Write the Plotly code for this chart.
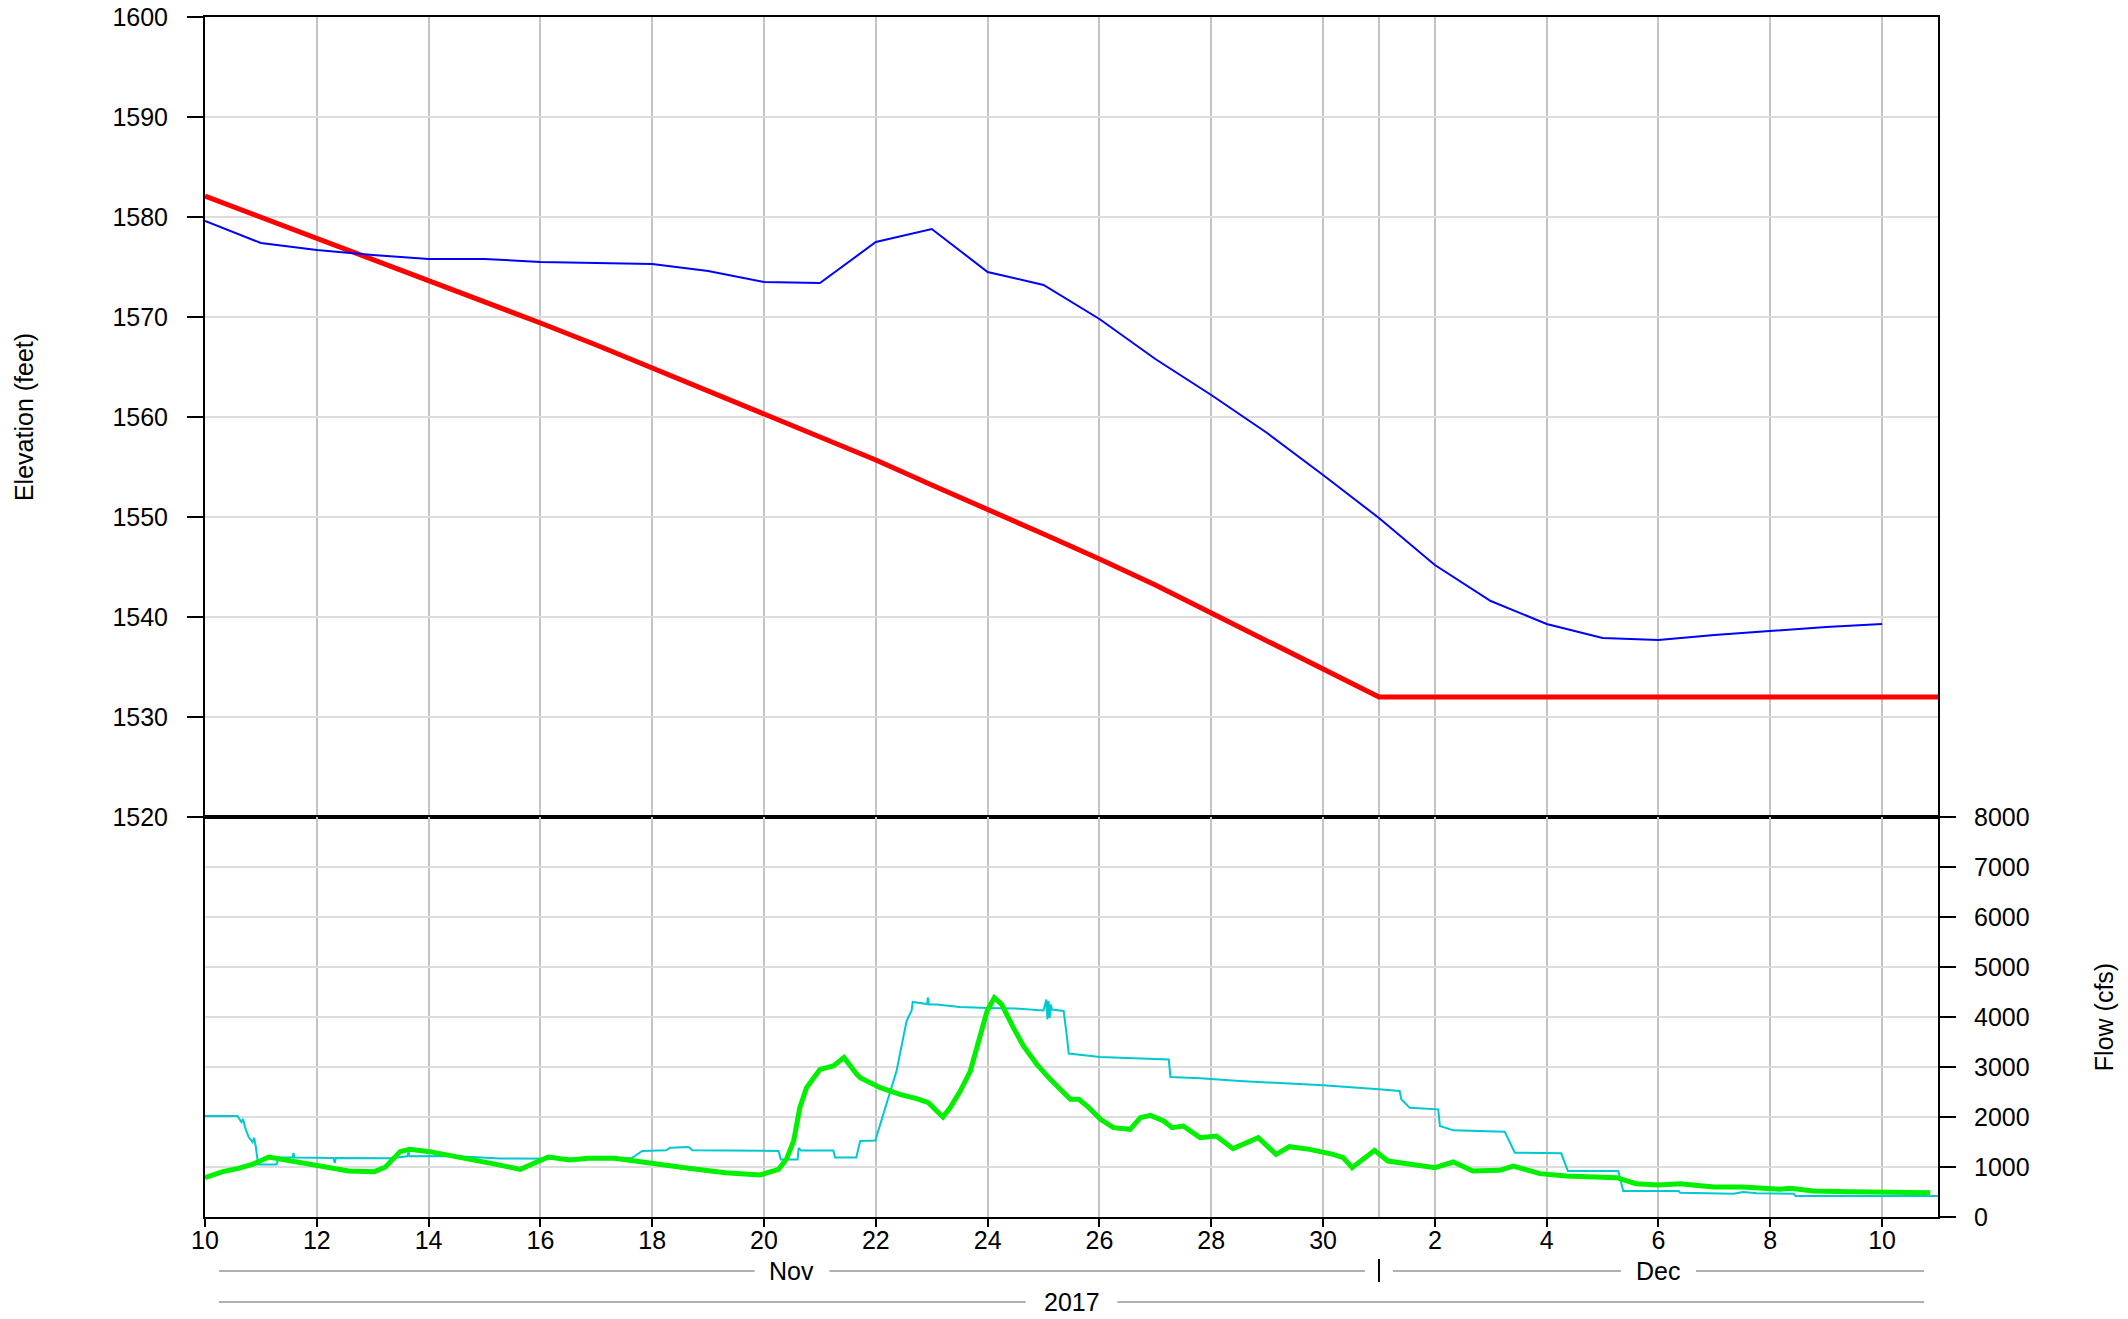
import pandas as pd
import plotly.graph_objects as go
from plotly.subplots import make_subplots

# ---------------- data (time = day count from Oct 31, 2017; 10 = Nov 10, 31 = Dec 1) -------------
BASE = pd.Timestamp("2017-10-31")

elev_days = list(range(10, 41))
elev_actual = [1579.6, 1577.4, 1576.7, 1576.2, 1575.8, 1575.8, 1575.5, 1575.4, 1575.3, 1574.6,
               1573.5, 1573.4, 1577.5, 1578.8, 1574.5, 1573.2, 1569.8, 1565.8, 1562.2, 1558.4,
               1554.2, 1549.9, 1545.2, 1541.6, 1539.3, 1537.9, 1537.7, 1538.2, 1538.6, 1539.0,
               1539.3]

rule_days = list(range(10, 32)) + [41]
rule_elev = [1582.1, 1580.0, 1577.9, 1575.8, 1573.7, 1571.6, 1569.4, 1567.2, 1564.9, 1562.7,
             1560.4, 1558.1, 1555.7, 1553.2, 1550.8, 1548.3, 1545.8, 1543.2, 1540.4, 1537.6,
             1534.8, 1532.0, 1532.0]

out_days = [10.0, 10.58, 10.65, 10.68, 10.72, 10.78, 10.85, 10.88, 10.91, 10.95, 11.28, 11.32,
            11.57, 11.58, 11.6, 12.3, 12.32, 12.34, 13.33, 13.62, 13.64, 13.66, 14.55, 14.6,
            15.28, 16.53, 17.2, 17.63, 17.82, 18.25, 18.32, 18.65, 18.72, 19.5, 20.26, 20.3,
            20.6, 20.62, 20.66, 21.24, 21.27, 21.65, 21.72, 21.99, 22.2, 22.37, 22.55, 22.64,
            22.66, 22.76, 22.92, 22.93, 22.95, 23.09, 23.5, 24.0, 24.5, 25.0, 25.05, 25.07,
            25.09, 25.11, 25.13, 25.15, 25.36, 25.42, 25.45, 26.01, 27.24, 27.27, 27.8, 28.51,
            30.0, 31.0, 31.37, 31.4, 31.55, 32.06, 32.09, 32.33, 33.25, 33.43, 34.26, 34.38,
            35.28, 35.37, 36.36, 36.39, 37.34, 37.52, 37.76, 38.42, 38.45, 41.0]
out_flow = [2020, 2020, 1900, 1960, 1780, 1600, 1500, 1580, 1400, 1050, 1050, 1190,
            1190, 1280, 1190, 1180, 1080, 1180, 1175, 1215, 1300, 1215, 1220, 1210,
            1170, 1165, 1185, 1175, 1320, 1333, 1385, 1400, 1335, 1330, 1320, 1150,
            1150, 1380, 1330, 1330, 1190, 1190, 1520, 1530, 2320, 2920, 3920, 4130,
            4300, 4290, 4260, 4390, 4250, 4250, 4200, 4180, 4170, 4130, 4350, 3950,
            4320, 3980, 4250, 4150, 4120, 3590, 3270, 3200, 3150, 2800, 2775, 2720,
            2633, 2553, 2520, 2353, 2187, 2153, 1820, 1733, 1707, 1287, 1273, 920,
            920, 520, 520, 487, 467, 500, 473, 467, 420, 420]

in_days = [10.0, 10.32, 10.58, 10.85, 11.14, 11.51, 12.0, 12.57, 13.03, 13.23, 13.49, 13.66,
           14.02, 14.55, 15.21, 15.64, 16.14, 16.53, 16.86, 17.33, 17.99, 18.65, 19.31, 19.93,
           20.26, 20.4, 20.53, 20.64, 20.76, 21.0, 21.24, 21.43, 21.66, 21.72, 22.08, 22.43,
           22.73, 22.94, 23.09, 23.2, 23.33, 23.51, 23.69, 23.84, 23.99, 24.12, 24.25, 24.46,
           24.64, 24.88, 25.12, 25.48, 25.63, 25.78, 26.02, 26.25, 26.55, 26.73, 26.91, 27.15,
           27.3, 27.5, 27.8, 28.09, 28.39, 28.84, 29.16, 29.4, 29.76, 30.18, 30.36, 30.52,
           30.92, 31.16, 31.61, 32.0, 32.33, 32.68, 33.16, 33.4, 33.88, 34.35, 35.25, 35.6,
           36.0, 36.39, 36.8, 37.0, 37.5, 37.76, 38.18, 38.36, 38.77, 39.43, 40.03, 40.86]
in_flow = [787, 907, 967, 1053, 1200, 1133, 1020, 920, 907, 1000, 1307, 1353,
           1307, 1200, 1053, 953, 1200, 1140, 1173, 1173, 1067, 973, 887, 840,
           953, 1153, 1520, 2187, 2587, 2953, 3020, 3187, 2853, 2787, 2587, 2453,
           2367, 2287, 2120, 2000, 2187, 2520, 2920, 3520, 4120, 4387, 4253, 3787,
           3420, 3053, 2753, 2353, 2353, 2220, 1953, 1787, 1753, 1987, 2033, 1920,
           1787, 1820, 1587, 1620, 1367, 1587, 1253, 1407, 1353, 1253, 1187, 987,
           1333, 1120, 1040, 987, 1100, 920, 933, 1020, 867, 820, 787, 667,
           640, 667, 620, 600, 600, 587, 553, 573, 520, 507, 507, 487]

tick_days = [10, 12, 14, 16, 18, 20, 22, 24, 26, 28, 30, 32, 34, 36, 38, 40]
tick_text = ["10", "12", "14", "16", "18", "20", "22", "24", "26", "28", "30",
             "2", "4", "6", "8", "10"]
months = ["Nov", "Dec"]
month_bounds = [10, 31, 41]
year_label = "2017"


def dt(days):
    return [BASE + pd.Timedelta(days=float(d)) for d in days]


FONT = "Liberation Sans, Arial, sans-serif"
BLACK = "#000000"

fig = make_subplots(rows=2, cols=1, shared_xaxes=True, vertical_spacing=0,
                    row_heights=[2 / 3, 1 / 3])

fig.add_trace(go.Scatter(x=dt(rule_days), y=rule_elev, mode="lines",
                         line=dict(color="#ff0000", width=5), name="Rule curve"), row=1, col=1)
fig.add_trace(go.Scatter(x=dt(elev_days), y=elev_actual, mode="lines",
                         line=dict(color="#0000ff", width=2), name="Elevation"), row=1, col=1)
fig.add_trace(go.Scatter(x=dt(out_days), y=out_flow, mode="lines",
                         line=dict(color="#00c8d0", width=2), name="Outflow"), row=2, col=1)
fig.add_trace(go.Scatter(x=dt(in_days), y=in_flow, mode="lines",
                         line=dict(color="#00f000", width=5), name="Inflow"), row=2, col=1)

xrange = dt([month_bounds[0], month_bounds[-1]])
minor_grid = dict(tickmode="array", tickvals=dt([month_bounds[1]]), showgrid=True,
                  gridcolor="#c4c4c4", gridwidth=2, ticks="")

common_x = dict(range=xrange, tickmode="array", tickvals=dt(tick_days), ticktext=tick_text,
                showgrid=True, gridcolor="#c4c4c4", gridwidth=2, showline=True,
                linecolor=BLACK, linewidth=2, mirror=True, zeroline=False, minor=minor_grid,
                automargin=False)

fig.update_xaxes(**common_x, showticklabels=False, ticks="", row=1, col=1)
fig.update_xaxes(**common_x, ticks="outside", ticklen=8, tickwidth=2, tickcolor=BLACK,
                 ticklabelstandoff=-8, ticklabeloverflow="allow",
                 tickfont=dict(size=25, color=BLACK, family=FONT), row=2, col=1)

fig.update_yaxes(range=[1520, 1600], dtick=10, tick0=1520, ticks="outside", ticklen=16,
                 tickwidth=2, tickcolor=BLACK, showline=True, linecolor=BLACK, linewidth=2,
                 mirror=True, showgrid=True, gridcolor="#dddddd", gridwidth=2, zeroline=False,
                 ticklabelstandoff=14, ticklabeloverflow="allow",
                 tickfont=dict(size=25, color=BLACK, family=FONT),
                 automargin=False,
                 title=dict(text="Elevation (feet)", standoff=72,
                            font=dict(size=25, color=BLACK, family=FONT)),
                 row=1, col=1)
fig.update_yaxes(range=[0, 8000], dtick=1000, tick0=0, side="right", ticks="outside",
                 ticklen=16, tickwidth=2, tickcolor=BLACK, showline=True, linecolor=BLACK,
                 linewidth=2, mirror=True, showgrid=True, gridcolor="#dddddd", gridwidth=2,
                 zeroline=False, ticklabelstandoff=13, ticklabeloverflow="allow",
                 automargin=False,
                 tickfont=dict(size=25, color=BLACK, family=FONT),
                 title=dict(text="Flow (cfs)", standoff=67,
                            font=dict(size=25, color=BLACK, family=FONT)),
                 row=2, col=1)

# month / year bands under the axis
PLOT_H = 1200
MONTH_Y = -54 / PLOT_H
YEAR_Y = -85 / PLOT_H
GRAY = "#b0b0b0"
pad = pd.Timedelta(hours=6)
shapes = []
annotations = []


def band(a, b, y, half_gap, label):
    mid = a + (b - a) / 2
    gap = pd.Timedelta(days=half_gap)
    for x0, x1 in ((a + pad, mid - gap), (mid + gap, b - pad)):
        shapes.append(dict(type="line", xref="x2", yref="paper", x0=x0, x1=x1,
                           y0=y, y1=y, line=dict(color=GRAY, width=2)))
    annotations.append(dict(text=label, xref="x2", yref="paper", x=mid, y=y,
                            xanchor="center", yanchor="middle", showarrow=False,
                            font=dict(size=25, color=BLACK, family=FONT)))


for i, m in enumerate(months):
    a, b = dt([month_bounds[i], month_bounds[i + 1]])
    band(a, b, MONTH_Y, 0.67, m)
sep = dt([month_bounds[1]])[0]
shapes.append(dict(type="line", xref="x2", yref="paper", x0=sep, x1=sep,
                   y0=MONTH_Y + 12 / PLOT_H, y1=MONTH_Y - 11 / PLOT_H,
                   line=dict(color=BLACK, width=2)))
ya, yb = dt([month_bounds[0], month_bounds[-1]])
band(ya, yb, YEAR_Y, 0.82, year_label)

fig.update_layout(width=2128, height=1319, margin=dict(l=205, r=190, t=17, b=102),
                  paper_bgcolor="white", plot_bgcolor="white", showlegend=False,
                  font=dict(family=FONT, color=BLACK), hovermode=False,
                  shapes=shapes, annotations=annotations)

fig.write_html("out.html", config={"displayModeBar": False},
               post_script="document.body.style.margin='0';"
                           "document.body.style.overflow='hidden';")
